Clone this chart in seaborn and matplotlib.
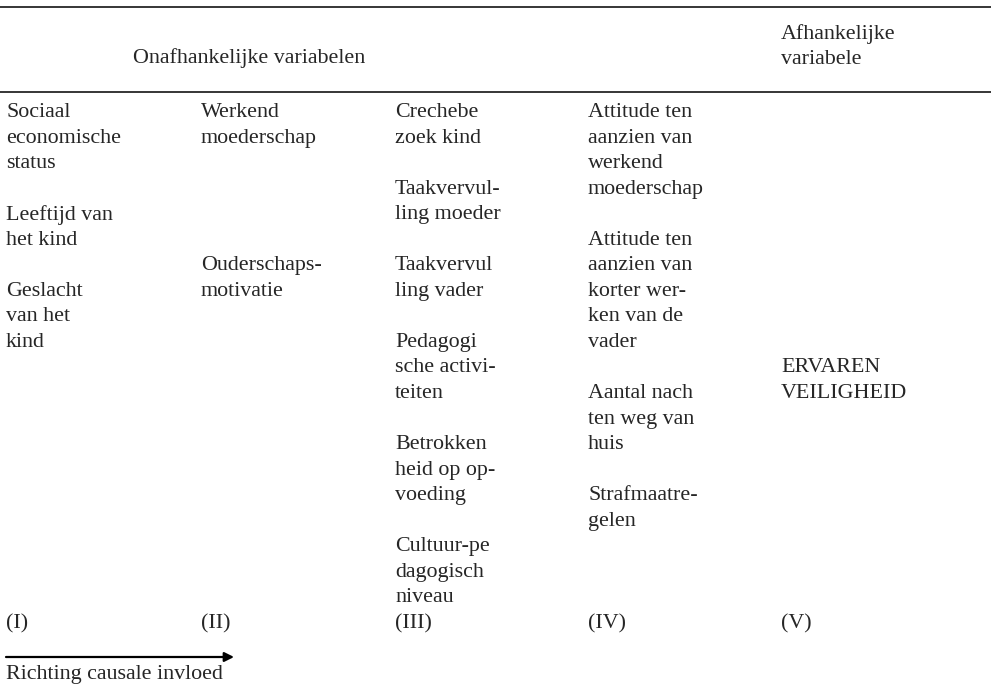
import matplotlib
matplotlib.use("Agg")
import matplotlib.pyplot as plt
import seaborn as sns

sns.set_theme(style="white")
plt.rcParams['font.family'] = ['Liberation Serif', 'DejaVu Serif']

# header texts
header_left = "Onafhankelijke variabelen"
header_right = ["Afhankelijke", "variabele"]

# column contents, one entry per printed line ("" = blank line)
col_I = ["Sociaal", "economische", "status", "",
         "Leeftijd van", "het kind", "",
         "Geslacht", "van het", "kind"]
col_II = ["Werkend", "moederschap", "", "", "", "",
          "Ouderschaps-", "motivatie"]
col_III = ["Crechebe", "zoek kind", "",
           "Taakvervul-", "ling moeder", "",
           "Taakvervul", "ling vader", "",
           "Pedagogi", "sche activi-", "teiten", "",
           "Betrokken", "heid op op-", "voeding", "",
           "Cultuur-pe", "dagogisch", "niveau"]
col_IV = ["Attitude ten", "aanzien van", "werkend", "moederschap", "",
          "Attitude ten", "aanzien van", "korter wer-", "ken van de", "vader", "",
          "Aantal nach", "ten weg van", "huis", "",
          "Strafmaatre-", "gelen"]
col_V = ["", "", "", "", "", "", "", "", "", "",
         "ERVAREN", "VEILIGHEID"]
columns = [col_I, col_II, col_III, col_IV, col_V]
col_labels = ["(I)", "(II)", "(III)", "(IV)", "(V)"]
arrow_label = "Richting causale invloed"

# layout (pixels)
col_x = [6, 201, 395, 588, 781]
first_line_y = 112.5
line_step = 25.55
fs = 15.8

fig = plt.figure(figsize=(9.91, 6.96), dpi=100)
ax = fig.add_axes([0, 0, 1, 1])
ax.set_xlim(0, 991)
ax.set_ylim(696, 0)
ax.axis("off")

# rules
ax.plot([0, 991], [7, 7], color="black", lw=1.1)
ax.plot([0, 991], [92, 92], color="black", lw=1.1)

# headers
ax.text(133, 58.5, header_left, fontsize=fs, va="center", ha="left")
ax.text(781, 34.5, header_right[0], fontsize=fs, va="center", ha="left")
ax.text(781, 59.5, header_right[1], fontsize=fs, va="center", ha="left")

# body
for x, lines in zip(col_x, columns):
    for k, line in enumerate(lines):
        if line:
            ax.text(x, first_line_y + k * line_step, line,
                    fontsize=fs, va="center", ha="left")

# column numbers
for x, lab in zip(col_x, col_labels):
    ax.text(x, first_line_y + 20 * line_step, lab,
            fontsize=fs, va="center", ha="left")

# arrow
ax.annotate("", xy=(234, 657), xytext=(6, 657),
            arrowprops=dict(arrowstyle="-|>", color="black", lw=1.6,
                            mutation_scale=14, shrinkA=0, shrinkB=0))
ax.text(6, 675, arrow_label, fontsize=fs, va="center", ha="left")

fig.savefig("out.png", dpi=100)
